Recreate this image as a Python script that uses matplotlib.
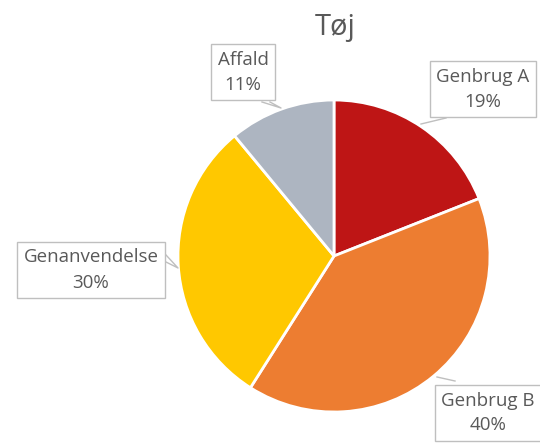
import matplotlib.pyplot as plt

# data
labels = ["Genbrug A", "Genbrug B", "Genanvendelse", "Affald"]
shares = [19, 40, 30, 11]
colors = ["#BE1515", "#ED7D31", "#FFC800", "#ADB5C1"]

fig = plt.figure(figsize=(5.4, 4.43), dpi=100)
ax = fig.add_axes([0, 0, 1, 1])

cx, cy, r = 334, 443 - 256, 156
ax.pie(shares, colors=colors, startangle=90, counterclock=False,
       center=(cx, cy), radius=r, frame=True,
       wedgeprops=dict(edgecolor="white", linewidth=2))
ax.set_xlim(0, 540)
ax.set_ylim(0, 443)
ax.axis("off")

ax.text(335, 443 - 27, "Tøj", ha="center", va="center", fontsize=21,
        color="#595959", family="Open Sans")

# label boxes (center x, center y in pixels from top)
pos = {"Genbrug A": (483, 89), "Genbrug B": (488, 413),
       "Genanvendelse": (91, 270), "Affald": (243, 72)}
box = dict(boxstyle="square,pad=0.35", fc="white", ec="#BFBFBF", lw=1)
for lab, v in zip(labels, shares):
    x, y = pos[lab]
    ax.text(x, 443 - y, f"{lab}\n{v}%", ha="center", va="center",
            fontsize=13.5, color="#595959", family="Open Sans",
            linespacing=1.5, bbox=box, zorder=5)

# callout lines
line = dict(color="#BFBFBF", lw=1, zorder=4)
ax.plot([421, 446], [443 - 124, 443 - 118], **line)
ax.plot([437, 455], [443 - 377, 443 - 381], **line)
ax.plot([166, 178, 166], [443 - 255, 443 - 268, 443 - 262], **line)
ax.plot([262, 281, 270], [443 - 102, 443 - 108, 443 - 102], **line)

fig.savefig("out.png", dpi=100)
